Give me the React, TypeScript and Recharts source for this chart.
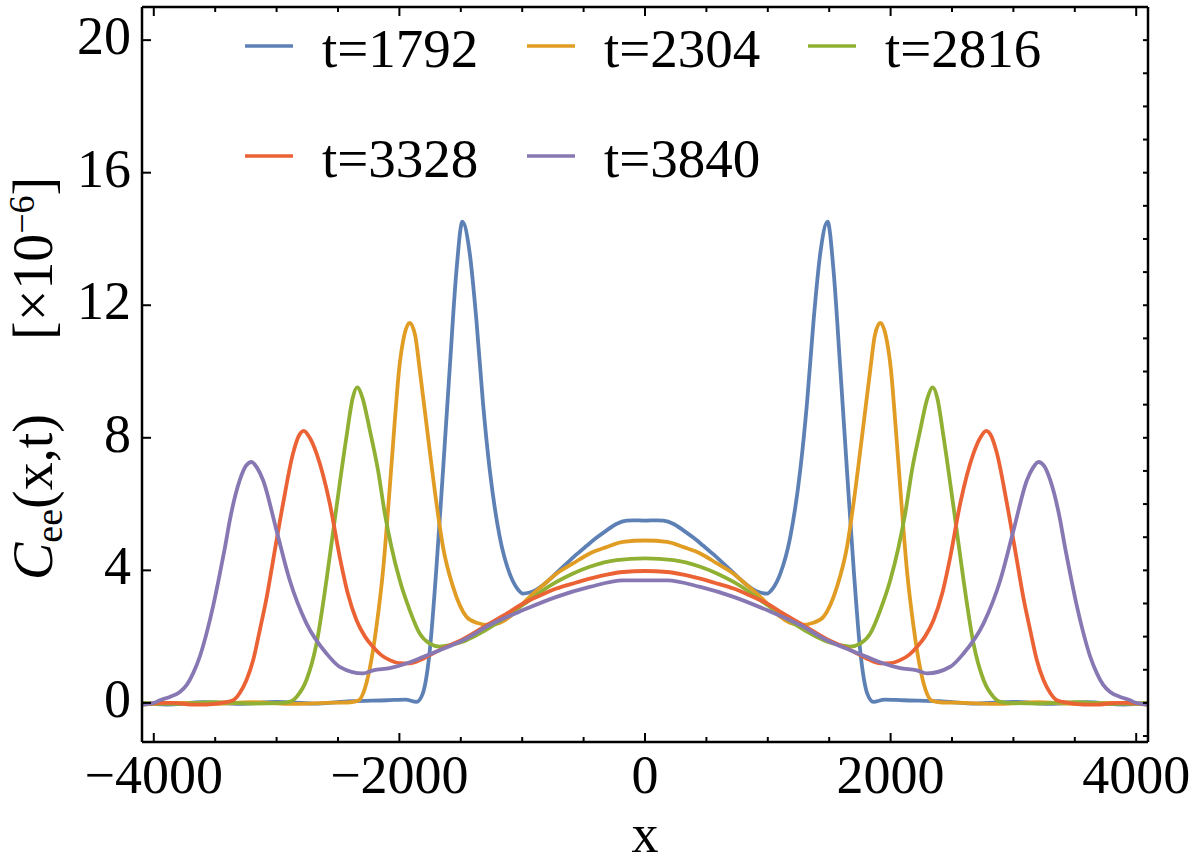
import React from 'react';
import { LineChart, Line, XAxis, YAxis } from 'recharts';

const FONT = 'Liberation Serif';

const seriesLabels = ['t=1792', 't=2304', 't=2816', 't=3328', 't=3840'];
const seriesColors = ['#5E81B5', '#E19C24', '#8FB032', '#EB6235', '#8778B3'];

const c1792: [number, number][] = [
  [-4096, 0], [-3900, -0.05], [-3600, 0.02], [-3300, -0.03], [-3000, 0.03], [-2700, -0.02],
  [-2400, 0.05], [-2100, 0.08], [-1950, 0.1], [-1860, 0.03], [-1810, 0.28], [-1755, 1.49],
  [-1700, 4.0], [-1645, 7.0], [-1590, 10.1], [-1535, 13.06], [-1487, 14.52], [-1427, 13.56],
  [-1373, 11.55], [-1319, 9.04], [-1264, 7.02], [-1183, 5.01], [-1102, 3.9], [-1040, 3.45],
  [-993, 3.3], [-940, 3.33], [-884, 3.42], [-800, 3.65], [-721, 3.92], [-640, 4.2], [-558, 4.48],
  [-475, 4.74], [-396, 4.98], [-315, 5.2], [-233, 5.4], [-150, 5.5], [-98, 5.51], [0, 5.5],
  [98, 5.51], [150, 5.5], [233, 5.4], [315, 5.2], [396, 4.98], [475, 4.74], [558, 4.48],
  [640, 4.2], [721, 3.92], [800, 3.65], [884, 3.42], [940, 3.33], [993, 3.3], [1040, 3.45],
  [1102, 3.9], [1183, 5.01], [1264, 7.02], [1319, 9.04], [1373, 11.55], [1427, 13.56],
  [1487, 14.52], [1535, 13.06], [1590, 10.1], [1645, 7.0], [1700, 4.0], [1755, 1.49],
  [1810, 0.28], [1860, 0.03], [1950, 0.1], [2100, 0.08], [2400, 0.05], [2700, -0.02],
  [3000, 0.03], [3300, -0.03], [3600, 0.02], [3900, -0.05], [4096, 0],
];

const c2304: [number, number][] = [
  [-4096, -0.05], [-3800, 0.0], [-3500, -0.03], [-3200, 0.02], [-2900, -0.03], [-2600, 0.0],
  [-2400, 0.02], [-2330, 0.08], [-2296, 0.28], [-2241, 1.04], [-2187, 2.3], [-2133, 4.0],
  [-2078, 6.52], [-2037, 8.53], [-2003, 10.04], [-1960, 11.1], [-1916, 11.47], [-1872, 11.1],
  [-1834, 10.04], [-1767, 8.03], [-1698, 6.02], [-1645, 4.71], [-1563, 3.5], [-1454, 2.6],
  [-1373, 2.42], [-1264, 2.35], [-1180, 2.42], [-1102, 2.6], [-1020, 2.9], [-939, 3.2],
  [-830, 3.55], [-721, 3.9], [-590, 4.2], [-450, 4.51], [-315, 4.7], [-179, 4.86], [0, 4.9],
  [179, 4.86], [315, 4.7], [450, 4.51], [590, 4.2], [721, 3.9], [830, 3.55], [939, 3.2],
  [1020, 2.9], [1102, 2.6], [1180, 2.42], [1264, 2.35], [1373, 2.42], [1454, 2.6], [1563, 3.5],
  [1645, 4.71], [1698, 6.02], [1767, 8.03], [1834, 10.04], [1872, 11.1], [1916, 11.47],
  [1960, 11.1], [2003, 10.04], [2037, 8.53], [2078, 6.52], [2133, 4.0], [2187, 2.3],
  [2241, 1.04], [2296, 0.28], [2330, 0.08], [2400, 0.02], [2600, 0.0], [2900, -0.03],
  [3200, 0.02], [3500, -0.03], [3800, 0.0], [4096, -0.05],
];

const c2816: [number, number][] = [
  [-4096, 0.0], [-3800, -0.03], [-3500, 0.02], [-3200, -0.02], [-2950, 0.0], [-2880, 0.05],
  [-2838, 0.18], [-2757, 0.69], [-2675, 1.79], [-2594, 3.7], [-2512, 5.92], [-2431, 8.03],
  [-2380, 9.2], [-2344, 9.52], [-2300, 9.2], [-2241, 8.23], [-2174, 7.02], [-2119, 5.72],
  [-2065, 4.71], [-1997, 3.7], [-1916, 2.8], [-1834, 2.09], [-1753, 1.79], [-1671, 1.7],
  [-1590, 1.74], [-1480, 1.85], [-1400, 1.99], [-1210, 2.4], [-1080, 2.75],
  [-939, 3.1], [-830, 3.4], [-721, 3.65], [-590, 3.9], [-450, 4.11], [-233, 4.31], [0, 4.36],
  [233, 4.31], [450, 4.11], [590, 3.9], [721, 3.65], [830, 3.4], [939, 3.1], [1080, 2.75],
  [1210, 2.4], [1400, 1.99], [1480, 1.85], [1590, 1.74], [1671, 1.7], [1753, 1.79],
  [1834, 2.09], [1916, 2.8], [1997, 3.7], [2065, 4.71], [2119, 5.72], [2174, 7.02],
  [2241, 8.23], [2300, 9.2], [2344, 9.52], [2380, 9.2], [2431, 8.03],
  [2512, 5.92], [2594, 3.7], [2675, 1.79], [2757, 0.69], [2838, 0.18], [2880, 0.05],
  [2950, 0.0], [3200, -0.02], [3500, 0.02], [3800, -0.03], [4096, 0.0],
];

const c3328: [number, number][] = [
  [-4096, -0.05], [-3950, 0.0], [-3843, 0.0], [-3700, -0.05], [-3571, -0.05], [-3450, 0.0],
  [-3354, 0.08], [-3300, 0.3], [-3245, 0.69], [-3190, 1.3], [-3137, 2.19], [-3080, 3.2],
  [-3028, 4.31], [-2947, 6.02], [-2866, 7.53], [-2820, 8.05], [-2779, 8.21], [-2730, 8.0],
  [-2675, 7.53], [-2567, 6.02], [-2486, 4.41], [-2420, 3.3], [-2350, 2.5], [-2280, 2.0],
  [-2214, 1.69], [-2150, 1.45], [-2078, 1.29], [-2000, 1.2], [-1916, 1.19], [-1800, 1.35],
  [-1671, 1.6], [-1482, 1.92], [-1264, 2.4], [-1102, 2.75], [-993, 3.0], [-850, 3.25],
  [-721, 3.45], [-590, 3.6], [-450, 3.75], [-300, 3.88], [-179, 3.95], [0, 3.98],
  [179, 3.95], [300, 3.88], [450, 3.75], [590, 3.6], [721, 3.45], [850, 3.25], [993, 3.0],
  [1102, 2.75], [1264, 2.4], [1482, 1.92], [1671, 1.6], [1800, 1.35], [1916, 1.19],
  [2000, 1.2], [2078, 1.29], [2150, 1.45], [2214, 1.69], [2280, 2.0], [2350, 2.5],
  [2420, 3.3], [2486, 4.41], [2567, 6.02], [2675, 7.53], [2730, 8.0], [2779, 8.21],
  [2820, 8.05], [2866, 7.53], [2947, 6.02], [3028, 4.31], [3080, 3.2], [3137, 2.19],
  [3190, 1.3], [3245, 0.69], [3300, 0.3], [3354, 0.08], [3450, 0.0], [3571, -0.05],
  [3700, -0.05], [3843, 0.0], [3950, 0.0], [4096, -0.05],
];

const c3840: [number, number][] = [
  [-4096, -0.05], [-4000, 0.0], [-3951, 0.08], [-3870, 0.18], [-3788, 0.33], [-3730, 0.55],
  [-3680, 0.89], [-3625, 1.4], [-3571, 2.09], [-3515, 2.95], [-3462, 3.9], [-3420, 4.7],
  [-3381, 5.51], [-3300, 6.72], [-3250, 7.15], [-3204, 7.27], [-3160, 7.1], [-3110, 6.72],
  [-3001, 5.21], [-2893, 3.7], [-2757, 2.4], [-2594, 1.49], [-2486, 1.09], [-2296, 0.89],
  [-2214, 0.98], [-2078, 1.05], [-1943, 1.19], [-1800, 1.4], [-1671, 1.59], [-1482, 1.89],
  [-1264, 2.35], [-993, 2.8], [-721, 3.2], [-450, 3.5], [-179, 3.7], [0, 3.7],
  [179, 3.7], [450, 3.5], [721, 3.2], [993, 2.8], [1264, 2.35], [1482, 1.89], [1671, 1.59],
  [1800, 1.4], [1943, 1.19], [2078, 1.05], [2214, 0.98], [2296, 0.89], [2486, 1.09],
  [2594, 1.49], [2757, 2.4], [2893, 3.7], [3001, 5.21], [3110, 6.72], [3160, 7.1],
  [3204, 7.27], [3250, 7.15], [3300, 6.72], [3381, 5.51], [3420, 4.7], [3462, 3.9],
  [3515, 2.95], [3571, 2.09], [3625, 1.4], [3680, 0.89], [3730, 0.55], [3788, 0.33],
  [3870, 0.18], [3951, 0.08], [4000, 0.0], [4096, -0.05],
];

const seriesData = [c1792, c2304, c2816, c3328, c3840];

const xTicksMajor = [-4000, -2000, 0, 2000, 4000];
const xTicksAll = [-4000, -3500, -3000, -2500, -2000, -1500, -1000, -500, 0, 500, 1000, 1500, 2000, 2500, 3000, 3500, 4000];
const yTicksMajor = [0, 4, 8, 12, 16, 20];
const yTicksRight = [-1, 0, 1, 2, 3, 4, 5, 6, 7, 8, 9, 10, 11, 12, 13, 14, 15, 16, 17, 18, 19, 20, 21];
const xDomain: [number, number] = [-4096, 4096];
const yDomain: [number, number] = [-1.18, 21];

const fmt = (v: number) => (v < 0 ? '\u2212' + Math.abs(v) : String(v));

const BottomTick = (props: any) => {
  const { x, y, payload } = props;
  const major = xTicksMajor.includes(payload.value);
  return (
    <g>
      <line x1={x} x2={x} y1={y} y2={y - (major ? 9 : 5)} stroke="#000" strokeWidth={2} />
      {major && (
        <text x={x} y={y + 51} textAnchor="middle" fontFamily={FONT} fontSize={54} fill="#000">
          {fmt(payload.value)}
        </text>
      )}
    </g>
  );
};

const TopTick = (props: any) => {
  const { x, y, payload } = props;
  const major = xTicksMajor.includes(payload.value);
  return <line x1={x} x2={x} y1={y} y2={y + (major ? 9 : 5)} stroke="#000" strokeWidth={2} />;
};

const LeftTick = (props: any) => {
  const { x, y, payload } = props;
  return (
    <g>
      <line x1={x} x2={x + 9} y1={y} y2={y} stroke="#000" strokeWidth={2} />
      <text x={x - 11} y={y + 14} textAnchor="end" fontFamily={FONT} fontSize={54} fill="#000">
        {fmt(payload.value)}
      </text>
    </g>
  );
};

const RightTick = (props: any) => {
  const { x, y } = props;
  return <line x1={x} x2={x - 5} y1={y} y2={y} stroke="#000" strokeWidth={2} />;
};

const legendCols = [245, 527, 808];
const legendRows = [46, 156];

const axisLineStyle = { stroke: '#000', strokeWidth: 2.5 };

export default function App() {
  return (
    <div style={{ position: 'absolute', left: 0, top: 0, width: 1200, height: 866, background: '#fff' }}>
      <LineChart width={1200} height={866} margin={{ top: 6, right: 51, bottom: 123, left: 141 }}>
        <XAxis
          xAxisId="bottom"
          dataKey="x"
          type="number"
          domain={xDomain}
          allowDataOverflow
          ticks={xTicksAll}
          interval={0}
          height={1}
          tickSize={0}
          tickMargin={0}
          tick={BottomTick}
          tickLine={false}
          axisLine={axisLineStyle}
        />
        <XAxis
          xAxisId="top"
          orientation="top"
          dataKey="x"
          type="number"
          domain={xDomain}
          allowDataOverflow
          ticks={xTicksAll}
          interval={0}
          height={1}
          tickSize={0}
          tickMargin={0}
          tick={TopTick}
          tickLine={false}
          axisLine={axisLineStyle}
        />
        <YAxis
          yAxisId="left"
          type="number"
          domain={yDomain}
          allowDataOverflow
          ticks={yTicksMajor}
          interval={0}
          width={1}
          tickSize={0}
          tickMargin={0}
          tick={LeftTick}
          tickLine={false}
          axisLine={axisLineStyle}
        />
        <YAxis
          yAxisId="right"
          orientation="right"
          type="number"
          domain={yDomain}
          allowDataOverflow
          ticks={yTicksRight}
          interval={0}
          width={1}
          tickSize={0}
          tickMargin={0}
          tick={RightTick}
          tickLine={false}
          axisLine={axisLineStyle}
        />
        {seriesData.map((pts, i) => (
          <Line
            key={seriesLabels[i]}
            xAxisId="bottom"
            yAxisId="left"
            data={pts.map(([x, y]) => ({ x, y }))}
            dataKey="y"
            type="monotone"
            stroke={seriesColors[i]}
            strokeWidth={3.8}
            dot={false}
            activeDot={false}
            isAnimationActive={false}
            name={seriesLabels[i]}
          />
        ))}
        <g>
          {seriesLabels.map((lab, i) => {
            const cx = legendCols[i % 3];
            const cy = legendRows[Math.floor(i / 3)];
            return (
              <g key={lab}>
                <line x1={cx} x2={cx + 48} y1={cy} y2={cy} stroke={seriesColors[i]} strokeWidth={3.5} />
                <text x={cx + 77} y={cy + 21} fontFamily={FONT} fontSize={55} fill="#000">
                  {lab}
                </text>
              </g>
            );
          })}
        </g>
        <text x={645} y={852} textAnchor="middle" fontFamily={FONT} fontSize={54} fill="#000">
          x
        </text>
        <text transform="translate(52,580) rotate(-90)" fontFamily={FONT} fontSize={56} fill="#000">
          <tspan fontStyle="italic">C</tspan>
          <tspan fontSize={38} dy={10}>ee</tspan>
          <tspan dy={-10}>(x,t)</tspan>
        </text>
        <text transform="translate(52,340) rotate(-90)" fontFamily={FONT} fontSize={56} fill="#000">
          [×10
          <tspan fontSize={36} dy={-18}>−6</tspan>
          <tspan dy={18}>]</tspan>
        </text>
      </LineChart>
    </div>
  );
}
